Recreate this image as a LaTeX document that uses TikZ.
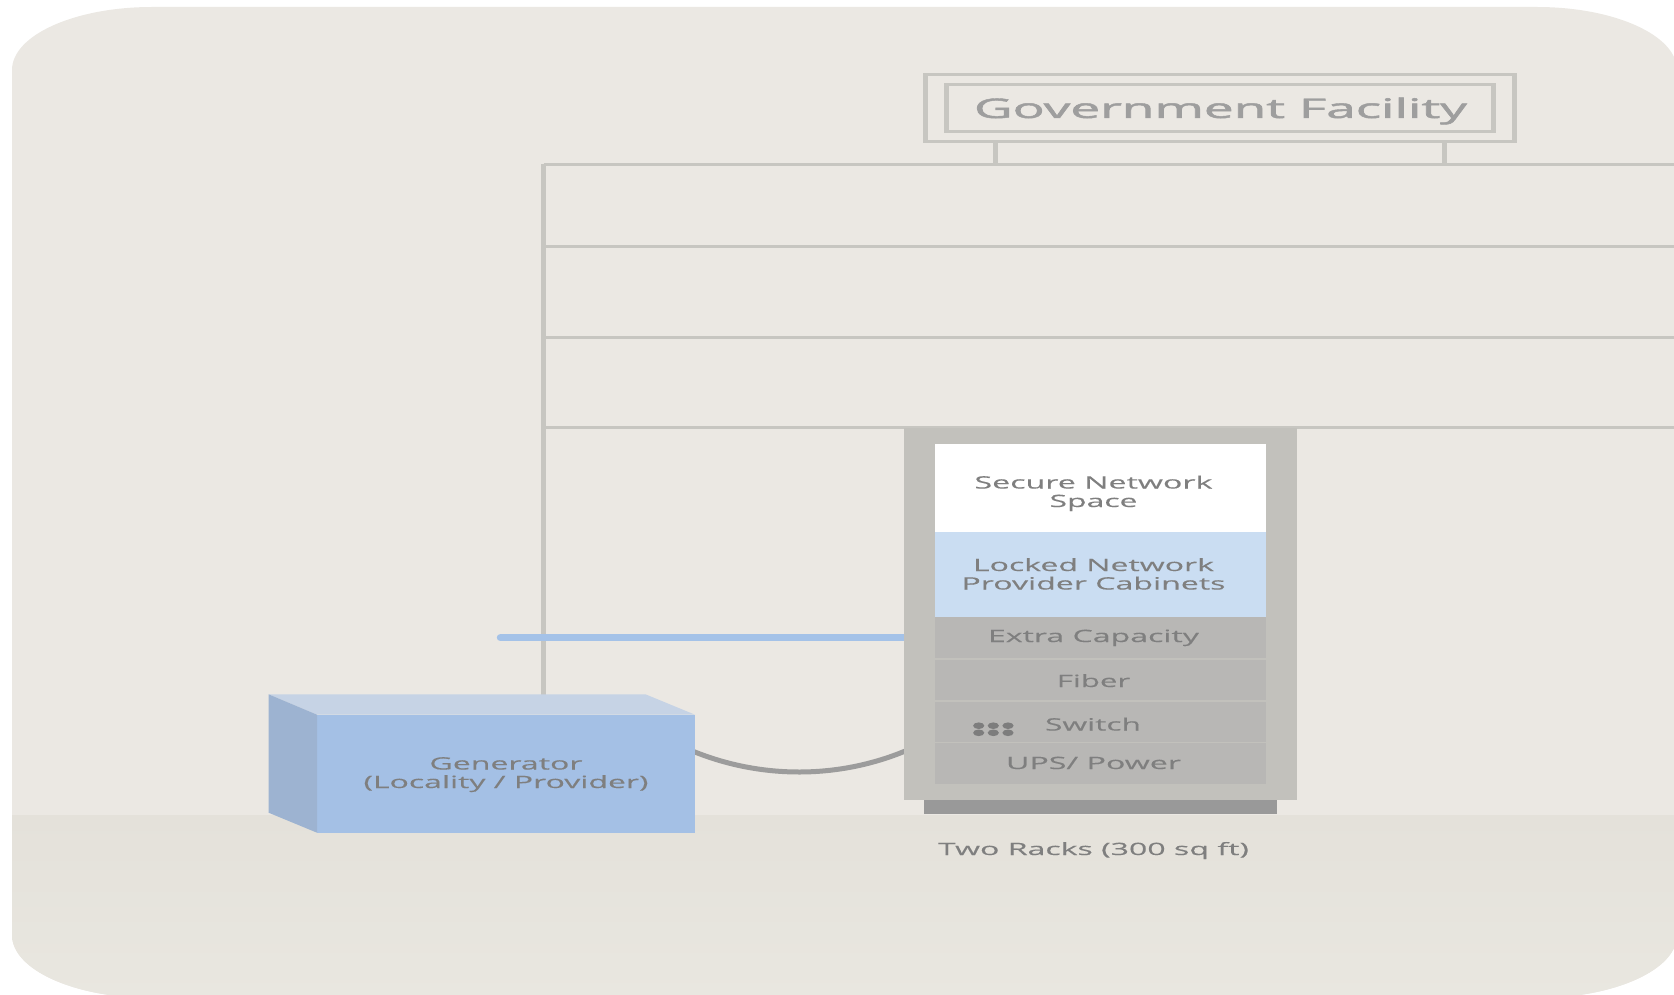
\documentclass[tikz,border=0pt]{standalone}
\usepackage{fontspec}
\setmainfont{Open Sans}
\newfontfamily\govfont[FakeBold=1.6]{Open Sans}
\newfontfamily\lblfont[FakeBold=0.2]{Open Sans}
\definecolor{bgc}{HTML}{EBE8E3}
\definecolor{grtop}{HTML}{E4E1DA}
\definecolor{grbot}{HTML}{E9E7E0}
\definecolor{linec}{HTML}{C7C6C1}
\definecolor{rackc}{HTML}{C2C1BC}
\definecolor{bandc}{HTML}{B8B7B5}
\definecolor{lockc}{HTML}{CADDF2}
\definecolor{basec}{HTML}{999999}
\definecolor{frontc}{HTML}{A4C0E5}
\definecolor{topc}{HTML}{C6D3E5}
\definecolor{sidec}{HTML}{9DB3D1}
\definecolor{cablec}{HTML}{9C9C9C}
\definecolor{wirec}{HTML}{A4C2E8}
\definecolor{txtc}{HTML}{7F7F7F}
\definecolor{govc}{HTML}{9E9E9E}
\definecolor{dotc}{HTML}{7D7D7D}
\newcommand{\fitw}[2]{\resizebox{#1pt}{\height}{#2}}
\tikzset{
  blockbox/.style={inner sep=0pt,outer sep=0pt,draw=none},
  ruleline/.style={linec,line width=2.8pt},
  stemline/.style={linec,line width=4.4pt},
  txtlabel/.style={inner sep=0pt,outer sep=0pt,anchor=base,text=txtc,font=\lblfont\fontsize{17}{18.5}\selectfont,align=center},
}
\begin{document}
\begin{tikzpicture}[x=1pt,y=-1pt]
\useasboundingbox (0,0) rectangle (1674,995);
\begin{scope}
\clip (0,0) rectangle (1674,995);
\path[fill=bgc] (12,70) .. controls (12,35.2) and (74.7,7) .. (152,7) -- (1537,7)
  .. controls (1614.3,7) and (1677,35.2) .. (1677,70) -- (1677,935)
  .. controls (1677,969.8) and (1614.3,998) .. (1537,998) -- (152,998)
  .. controls (74.7,998) and (12,969.8) .. (12,935) -- cycle;
\begin{scope}
\clip (12,70) -- (12,935) .. controls (12,969.8) and (74.7,998) .. (152,998) -- (1537,998)
  .. controls (1614.3,998) and (1677,969.8) .. (1677,935) -- (1677,70) -- cycle;
\shade[top color=grtop,bottom color=grbot] (0,815) rectangle (1680,998);
\end{scope}
% building lines
\coordinate (topL) at (543.5,164.3);
\coordinate (topR) at (1674,164.3);
\coordinate (r1L) at (543.5,246.6);
\coordinate (r1R) at (1674,246.6);
\coordinate (r2L) at (543.5,337.4);
\coordinate (r2R) at (1674,337.4);
\coordinate (r3L) at (543.5,427.8);
\coordinate (r3R) at (1674,427.8);
\coordinate (wallB) at (543.5,700);
\coordinate (s1a) at (995.5,143);
\coordinate (s1b) at (995.5,164.3);
\coordinate (s2a) at (1444.6,143);
\coordinate (s2b) at (1444.6,164.3);
\draw[ruleline] (topL) -- (topR);
\draw[ruleline] (r1L) -- (r1R);
\draw[ruleline] (r2L) -- (r2R);
\draw[ruleline] (r3L) -- (r3R);
\draw[stemline,line width=5pt] (topL) -- (wallB);
\draw[stemline] (s1a) -- (s1b);
\draw[stemline] (s2a) -- (s2b);
% government sign (frames with thicker uprights than rails)
\node[blockbox,fill=linec,minimum width=594pt,minimum height=70.7pt] (govout) at (1220,108) {};
\node[blockbox,fill=bgc,minimum width=584pt,minimum height=64.7pt] (govoutin) at (1220,108) {};
\node[blockbox,fill=linec,minimum width=552pt,minimum height=50.6pt] (govin) at (1220,108) {};
\node[blockbox,fill=bgc,minimum width=542pt,minimum height=44.6pt] (govinin) at (1220,108) {};
\node[inner sep=0pt,outer sep=0pt,anchor=base,text=govc,font=\govfont\fontsize{27}{30}\selectfont] (govt) at (1220.5,118) {\fitw{493}{Government Facility}};
% cable and wire
\coordinate (cabA) at (690,750);
\coordinate (cabB) at (910,749);
\draw[cablec,line width=5pt] (cabA) .. controls (760,779.5) and (840,779.5) .. (cabB);
\coordinate (wireA) at (500.5,637.7);
\coordinate (wireB) at (910,637.7);
\draw[wirec,line width=7.4pt,line cap=round] (wireA) -- (wireB);
% generator
\node[blockbox,fill=frontc,minimum width=378pt,minimum height=118pt] (genf) at (506,773.7) {};
\fill[topc] (268.6,694.3) -- (645.5,694.3) -- (genf.north east) -- (genf.north west) -- cycle;
\fill[sidec] (268.6,694.3) -- (genf.north west) -- (genf.south west) -- (268.6,812.7) -- cycle;
\node[txtlabel] (gent) at (506,788) {\fitw{153}{Generator}\\\fitw{285}{(Locality / Provider)}};
% rack
\node[blockbox,fill=basec,minimum width=352.7pt,minimum height=14.5pt] (base) at (1100.35,807) {};
\node[blockbox,fill=rackc,minimum width=393pt,minimum height=372pt] (rack) at (1100.8,614) {};
\node[blockbox,fill=white,minimum width=330.7pt,minimum height=88.3pt] (secure) at (1100.35,488.15) {};
\node[blockbox,fill=lockc,minimum width=330.7pt,minimum height=84.4pt] (locked) at (1100.35,574.5) {};
\node[blockbox,fill=bandc,minimum width=330.7pt,minimum height=41pt] (extra) at (1100.35,637.2) {};
\node[blockbox,fill=bandc,minimum width=330.7pt,minimum height=40pt] (fiber) at (1100.35,680) {};
\node[blockbox,fill=bandc,minimum width=330.7pt,minimum height=39.7pt] (switchb) at (1100.35,721.85) {};
\node[blockbox,fill=bandc,minimum width=330.7pt,minimum height=41pt] (ups) at (1100.35,763.5) {};
\node[txtlabel] (securet) at (1093.5,507) {\fitw{238}{Secure Network}\\\fitw{88}{Space}};
\node[txtlabel] (lockedt) at (1093.5,589.5) {\fitw{241}{Locked Network}\\\fitw{264}{Provider Cabinets}};
\node[txtlabel] (extrat) at (1093.5,642) {\fitw{211}{Extra Capacity}};
\node[txtlabel] (fibert) at (1093.5,687) {\fitw{73.5}{Fiber}};
\node[txtlabel] (switcht) at (1093,730.5) {\fitw{96}{Switch}};
\node[txtlabel] (upst) at (1093.5,769) {\fitw{175}{UPS/ Power}};
\node[txtlabel] (twot) at (1093.5,855) {\fitw{311}{Two Racks (300 sq ft)}};
\foreach \x in {978.7,993.3,1008}
  \foreach \y in {725.7,732.8}
    \fill[dotc] (\x,\y) ellipse[x radius=5.6pt,y radius=3.3pt];
\end{scope}
\end{tikzpicture}
\end{document}
